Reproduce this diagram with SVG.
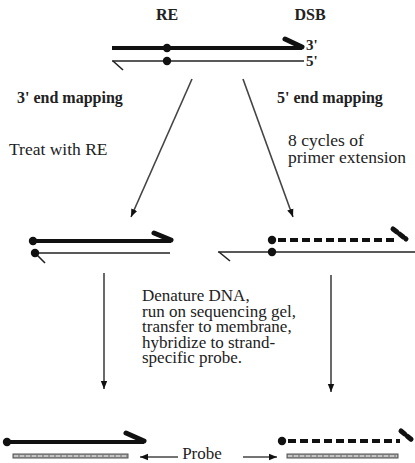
<svg xmlns="http://www.w3.org/2000/svg" width="415" height="463" viewBox="0 0 415 463">
<style>
text{font-family:"Liberation Serif","Times New Roman",serif;fill:#222}
.b{font-weight:bold}
.thick{stroke:#111;stroke-width:4;fill:none}
.hook{stroke:#111;stroke-width:5;fill:none;stroke-linecap:round}
.thin{stroke:#222;stroke-width:1.6;fill:none}
.dash{stroke:#111;stroke-width:4;fill:none;stroke-dasharray:8 4}
.dot{fill:#111}
.arr{stroke:#444;stroke-width:1.6;fill:none}
.probe{fill:#9a9a9a;stroke:#555;stroke-width:1}
.pd{stroke:#eee;stroke-width:1.2;stroke-dasharray:4 2}
</style>
<defs>
<marker id="ah" viewBox="0 0 10 10" refX="10" refY="5" markerWidth="5" markerHeight="5" markerUnits="strokeWidth" orient="auto">
<path d="M0,1 L10,5 L0,9 Z" fill="#111"/>
</marker>
</defs>

<g id="top-duplex">
<text x="167" y="20" class="b" font-size="16" text-anchor="middle">RE</text>
<text x="310" y="20" class="b" font-size="16" text-anchor="middle">DSB</text>
<line x1="112" y1="48" x2="302" y2="48" class="thick"/>
<line x1="285" y1="39" x2="302" y2="47" class="hook"/>
<line x1="112" y1="61" x2="304" y2="61" class="thin"/>
<line x1="113" y1="61" x2="123" y2="70" class="thin"/>
<circle cx="167" cy="48" r="4.2" class="dot"/>
<circle cx="167" cy="61" r="4.2" class="dot"/>
<text x="306" y="50" class="b" font-size="15">3'</text>
<text x="306" y="66" class="b" font-size="15">5'</text>
</g>

<g id="labels">
<text x="17" y="103" class="b" font-size="16">3' end mapping</text>
<text x="277" y="103" class="b" font-size="16">5' end mapping</text>
<text x="9" y="155" font-size="17.5">Treat with RE</text>
<text x="288" y="146" font-size="17.5">8 cycles of</text>
<text x="288" y="163" font-size="17.5">primer extension</text>
<text font-size="17">
<tspan x="142" y="301">Denature DNA,</tspan>
<tspan x="142" y="316.5">run on sequencing gel,</tspan>
<tspan x="142" y="332">transfer to membrane,</tspan>
<tspan x="142" y="347.5">hybridize to strand-</tspan>
<tspan x="142" y="363">specific probe.</tspan>
</text>
</g>

<g id="mid-left">
<line x1="33" y1="241" x2="171" y2="241" class="thick"/>
<line x1="154" y1="233" x2="171" y2="240" class="hook"/>
<line x1="33" y1="253" x2="170" y2="253" class="thin"/>
<line x1="35" y1="253" x2="45" y2="263" class="thin"/>
<circle cx="33" cy="241" r="4.2" class="dot"/>
<circle cx="35" cy="253" r="4.2" class="dot"/>
</g>

<g id="mid-right">
<line x1="278" y1="240" x2="394" y2="240" class="dash"/>
<line x1="393" y1="229" x2="406" y2="239" class="hook" stroke-dasharray="5 3" stroke-linecap="butt"/>
<line x1="218" y1="252" x2="415" y2="252" class="thin"/>
<line x1="219" y1="252" x2="230" y2="261" class="thin"/>
<circle cx="272" cy="240" r="4.2" class="dot"/>
<circle cx="272" cy="252" r="4.2" class="dot"/>
</g>

<g id="bottom-left">
<line x1="7" y1="442" x2="144" y2="442" class="thick"/>
<line x1="126" y1="433" x2="144" y2="441" class="hook"/>
<circle cx="7" cy="442" r="4.2" class="dot"/>
<rect x="13" y="454" width="115" height="4" class="probe"/>
<line x1="14" y1="456" x2="127" y2="456" class="pd"/>
</g>

<g id="bottom-right">
<line x1="288" y1="441" x2="400" y2="441" class="dash"/>
<line x1="401" y1="431" x2="412" y2="440" class="hook" stroke-dasharray="5 3" stroke-linecap="butt"/>
<circle cx="282" cy="441" r="4.2" class="dot"/>
<rect x="287" y="454" width="111" height="4" class="probe"/>
<line x1="288" y1="456" x2="397" y2="456" class="pd"/>
<text x="202" y="459" font-size="17" text-anchor="middle">Probe</text>
</g>

<g id="connectors">
<line x1="192" y1="79" x2="131" y2="217" class="arr" marker-end="url(#ah)"/>
<line x1="243" y1="79" x2="293" y2="217" class="arr" marker-end="url(#ah)"/>
<line x1="104" y1="273" x2="104" y2="389" class="arr" marker-end="url(#ah)"/>
<line x1="331" y1="275" x2="331" y2="392" class="arr" marker-end="url(#ah)"/>
<line x1="178" y1="457" x2="140" y2="457" class="arr" marker-end="url(#ah)"/>
<line x1="243" y1="457" x2="277" y2="457" class="arr" marker-end="url(#ah)"/>
</g>
</svg>
